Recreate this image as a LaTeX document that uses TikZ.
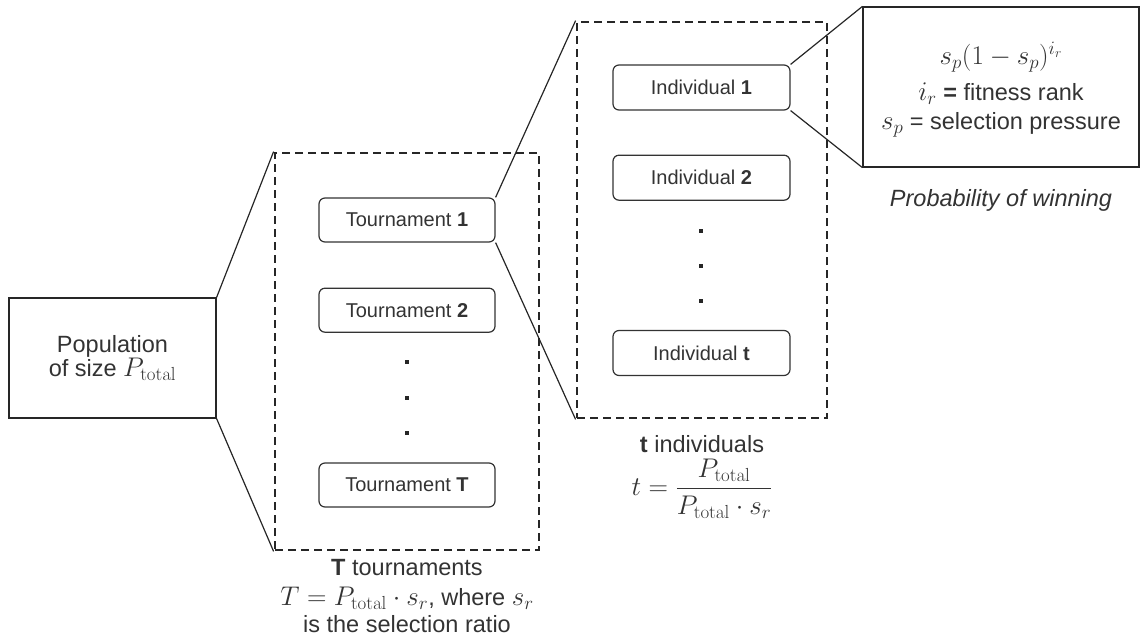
\RequirePackage{fix-cm}
\documentclass[tikz,border=0pt]{standalone}
\usepackage{amsmath}
\usepackage[no-math]{fontspec}
\setmainfont{Liberation Sans}
\usetikzlibrary{positioning}
\newcommand{\km}[1]{{\fontsize{27}{27}\selectfont$#1$}}
\tikzset{
  stage/.style={draw=black!80,line width=1.2pt,rounded corners=6pt,minimum width=176pt,
    minimum height=44pt,inner sep=0pt,text=black!80,font=\fontsize{20}{24}\selectfont},
  group/.style={draw=black!85,line width=2.8pt,dash pattern=on 8pt off 5pt,inner sep=0pt},
  plain/.style={draw=black!85,line width=1.2pt,align=center,inner sep=0pt,text=black!80,
    font=\fontsize{23.5}{26}\selectfont},
  caption/.style={align=center,inner sep=0pt,text=black!80,font=\fontsize{23.5}{27}\selectfont},
  dot/.style={fill=black!85,minimum size=4pt,inner sep=0pt},
  link/.style={line width=1.2pt,draw=black!85}
}

\begin{document}
\begin{tikzpicture}[x=1pt,y=-1pt]
\useasboundingbox (0,0) rectangle (1142,637);
\node[plain,minimum width=207pt,minimum height=120pt,font=\fontsize{23.5}{23}\selectfont] (pop) at (112.5,358) {Population\\of size \km{P_{\mathrm{total}}}};
% tournaments
\node[group,minimum width=264pt,minimum height=397pt] (tours) at (407,351.5) {};
\node[stage] (tour1) at (407,220) {Tournament \textbf{1}};
\node[stage,below=45pt of tour1] (tour2) {Tournament \textbf{2}};
\node[stage] (tourT) at (407,485) {Tournament \textbf{T}};
\foreach \y in {362,398,433} \node[dot] (tdot\y) at (407,\y) {};
\node[caption,below=8pt of tours] (tourcap) {\textbf{T} tournaments\\[3pt]\km{T=P_{\mathrm{total}}\cdot s_r}, where \km{s_r}\\is the selection ratio};
% individuals
\node[group,minimum width=250pt,minimum height=396pt] (indivs) at (702,220) {};
\node[stage,minimum width=177pt,minimum height=45pt] (ind1) at (701.5,87.5) {Individual \textbf{1}};
\node[stage,minimum width=177pt,minimum height=45pt,below=44pt of ind1] (ind2) {Individual \textbf{2}};
\node[stage,minimum width=177pt,minimum height=45pt] (indt) at (701.5,353) {Individual \textbf{t}};
\foreach \y in {231,266,301} \node[dot] (idot\y) at (701,\y) {};
\node[caption,below=16pt of indivs] (indcap) {\textbf{t} individuals\\[5pt]\km{t=\dfrac{P_{\mathrm{total}}}{P_{\mathrm{total}}\cdot s_r}}};
% probability
\node[plain,minimum width=276pt,minimum height=160pt] (prob) at (1001,87) {};
\node[caption] (probeq) at (1001,57) {\km{s_p(1-s_p)^{i_r}}};
\node[caption,font=\fontsize{23.5}{29}\selectfont] (probkey) at (1001,110) {\km{i_r} \textbf{=} fitness rank\\\km{s_p} = selection pressure};
\node[caption,below=22pt of prob,font=\fontsize{23.5}{26}\selectfont\itshape] (probcap) {Probability of winning};
\draw[link] (pop.north east) -- (tours.north west);
\draw[link] (pop.south east) -- (tours.south west);
\draw[link] (tour1.north east) -- (indivs.north west);
\draw[link] (tour1.south east) -- (indivs.south west);
\draw[link] (ind1.north east) -- (prob.north west);
\draw[link] (ind1.south east) -- (prob.south west);
\end{tikzpicture}
\end{document}
